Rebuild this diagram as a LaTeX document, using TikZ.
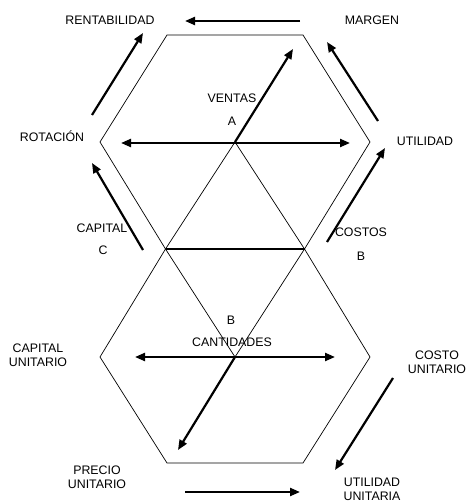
\documentclass[tikz,border=0pt]{standalone}
\usepackage{fontspec}
\setmainfont{Liberation Sans}
\usetikzlibrary{arrows.meta}

\begin{document}
\begin{tikzpicture}[x=1bp, y=-1bp, font=\fontsize{12.4}{14}\selectfont,
    hexa/.style={line width=0.7bp},
    arr/.style={-{Triangle[length=10bp,width=8bp]}, line width=2.2bp},
    darr/.style={{Triangle[length=10bp,width=8bp]}-{Triangle[length=10bp,width=8bp]}, line width=2.2bp},
    lbl/.style={inner sep=0pt, align=center}]
    \useasboundingbox (0,0) rectangle (468,502);
    % top hexagon
    \coordinate (ca) at (235,142);
    \coordinate (t1) at (167,35);
    \coordinate (t2) at (303,35);
    \coordinate (t3) at (370,142);
    \coordinate (t4) at (304.5,249);
    \coordinate (t5) at (165.5,249);
    \coordinate (t6) at (100,142);
    % bottom hexagon
    \coordinate (cb) at (235,357);
    \coordinate (b3) at (370,357);
    \coordinate (b4) at (303,463);
    \coordinate (b5) at (167,463);
    \coordinate (b6) at (100,357);
    \draw[hexa] (t1) -- (t2) -- (t3) -- (t4) -- (b3) -- (b4) -- (b5) -- (b6)
      -- (t5) -- (t6) -- cycle;
    \draw[hexa] (t5) -- (ca) -- (t4);
    \draw[hexa] (t5) -- (cb) -- (t4);
    \draw[line width=1.1bp] (t5) -- (t4);
    % labels
    \node[lbl] (rent) at (110,20)  {RENTABILIDAD};
    \node[lbl] (marg) at (372,20)  {MARGEN};
    \node[lbl] (rot)  at (52,136)  {ROTACIÓN};
    \node[lbl] (util) at (425,141) {UTILIDAD};
    \node[lbl] (vent) at (232,98)  {VENTAS};
    \node[lbl] (va)   at (232,121) {A};
    \node[lbl] (cap)  at (102,228) {CAPITAL};
    \node[lbl] (capc) at (103,250) {C};
    \node[lbl] (cost) at (361,232) {COSTOS};
    \node[lbl] (cosb) at (361,256) {B};
    \node[lbl] (cntb) at (231,320) {B};
    \node[lbl] (cant) at (232,342) {CANTIDADES};
    \node[lbl] (capu) at (38,355)  {CAPITAL\\UNITARIO};
    \node[lbl] (cosu) at (437,362) {COSTO\\UNITARIO};
    \node[lbl] (preu) at (97,477)  {PRECIO\\UNITARIO};
    \node[lbl] (utiu) at (372,489) {UTILIDAD\\UNITARIA};
    % arrow ends
    \coordinate (m1) at (300,21);   \coordinate (r1) at (185,21);
    \coordinate (o1) at (92,115);   \coordinate (r2) at (143,33);
    \coordinate (u1) at (378,121);  \coordinate (m2) at (327,42);
    \coordinate (c1) at (143,250);  \coordinate (o2) at (92,163);
    \coordinate (s1) at (327,242);  \coordinate (u2) at (385,148);
    \coordinate (hl) at (121,143);  \coordinate (hr) at (350,143);
    \coordinate (ve) at (293,49);
    \coordinate (kl) at (135,357);  \coordinate (kr) at (335,357);
    \coordinate (qe) at (178,450);
    \coordinate (cu) at (393,378);  \coordinate (uu) at (335,470);
    \coordinate (pu) at (185,492);  \coordinate (pe) at (300,492);
    \draw[arr]  (m1) -- (r1);
    \draw[arr]  (o1) -- (r2);
    \draw[arr]  (u1) -- (m2);
    \draw[arr]  (c1) -- (o2);
    \draw[arr]  (s1) -- (u2);
    \draw[darr] (hl) -- (hr);
    \draw[arr]  (ca) -- (ve);
    \draw[darr] (kl) -- (kr);
    \draw[arr]  (cb) -- (qe);
    \draw[arr]  (cu) -- (uu);
    \draw[arr]  (pu) -- (pe);
  \end{tikzpicture}
\end{document}
